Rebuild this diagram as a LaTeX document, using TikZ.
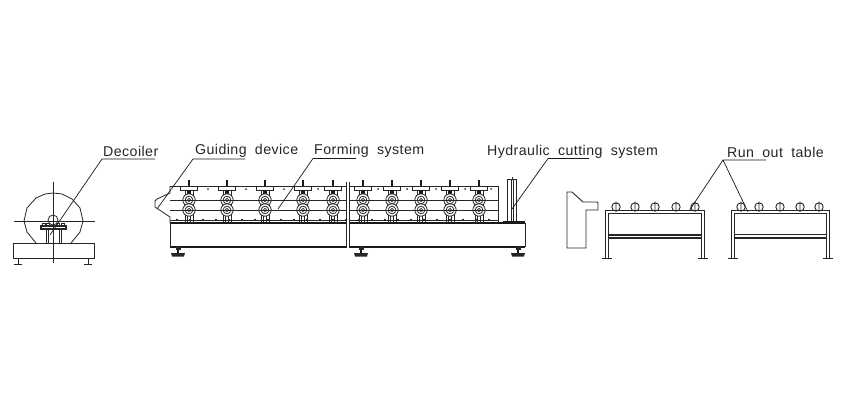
\documentclass[tikz,border=0pt]{standalone}
\usepackage{fontspec}
\setmainfont[LetterSpace=3,WordSpace=1.9]{Liberation Sans}
\begin{document}
\begin{tikzpicture}[x=1pt,y=-1pt,
  ln/.style={draw=black!85,line width=0.8pt},
  thick ln/.style={draw=black!90,line width=1.5pt},
  leader/.style={draw=black!90,line width=0.7pt},
  lab/.style={anchor=west,inner sep=0pt,font=\fontsize{14.2}{16}\selectfont,text=black!85}]
\useasboundingbox (0,0) rectangle (850,410);
\fill[white] (0,0) rectangle (850,410);
% ---------- decoiler
\draw[ln] (36,243) -- (27,232) -- (24,221) -- (27,208) -- (36,198) -- (45,194) -- (53,193) -- (62,194) -- (72,199) -- (80,208) -- (83,221) -- (80,232) -- (71,243);
\draw[ln] (14,221) -- (95,221) (53,182) -- (53,263);
\draw[ln] (13,243.5) rectangle (94,258.5);
\foreach \x in {18,88}{\draw[ln] (\x,258.5) -- (\x,264) (\x-4,264.5) -- (\x+4,264.5);}
\draw[ln] (53,220) circle (5);
\draw[ln,line width=1.2pt] (41,226) rectangle (66,229);
\draw[ln] (46,229) -- (46,243) (48,229) -- (48,243) (59,229) -- (59,243) (61,229) -- (61,243);
\foreach \x in {44,48,58,63}{\draw[ln] (\x-1.2,226) rectangle (\x+1.2,223);}
% ---------- forming machine
\draw[ln] (170,186) -- (498,186) -- (498,223);
\draw[ln] (170,186) -- (170,193) -- (157,199) -- (155,201) -- (155,207) -- (170,217) -- (170,223);
\draw[ln] (170,200) -- (498,200) (170,210) -- (498,210);
\draw[thick ln] (170,223) -- (525,223);
\draw[ln] (170,220) -- (498,220);
\draw[ln] (170,223) -- (170,247) (525,223) -- (525,247);
\draw[thick ln] (170,247) -- (525,247);
\fill[white] (346,182) rectangle (349,248);
\draw[ln] (346,182) -- (346,248) (349,182) -- (349,248);
\foreach \x in {177,190,...,495}{\fill[black!90] (\x,219.7) circle (1);}
\foreach \x in {208,246,284,318,378,407,436,465,491}{\fill[black!80] (\x,189) circle (1);}
\foreach \x in {189,227,265,303,333,363,392,421,450,479}{
  \draw[ln,fill=white] (\x-8.5,186) rectangle (\x+8.5,190);
  \draw[thick ln,line width=2.2pt] (\x,180) -- (\x,186);
  \fill[black!90] (\x-2,190) rectangle (\x+2,196);
  \draw[ln] (\x-4,190) -- (\x-4,223) (\x+4,190) -- (\x+4,223) (\x-1.5,205) -- (\x-1.5,223) (\x+1.5,205) -- (\x+1.5,223);
  \foreach \y in {200,210}{
    \draw[ln,fill=white] (\x,\y) circle (6.2);
    \draw[ln] (\x,\y) circle (3.8) (\x,\y) circle (1.6);
    \draw[ln] (\x-7,\y) -- (\x+7,\y);
  }
}
\foreach \x in {178,361,518}{
  \draw[thick ln,line width=2pt] (\x,247) -- (\x,254);
  \fill[black!85] (\x-2.5,246) rectangle (\x+2.5,249.5);
  \fill[black!85] (\x-7,253) -- (\x+7,253) -- (\x+6,256.5) -- (\x-6,256.5) -- cycle;
}
% ---------- cutting system
\draw[ln] (507,222) -- (507,179) -- (516,179) -- (516,222) (511,179) -- (511,222) (513,179) -- (513,222) (512,179) -- (512,177);
\draw[thick ln] (503,222) -- (525,222);
% ---------- profile
\draw[ln,line width=0.9pt] (567,192) -- (572,192) -- (583,202) -- (597,202) -- (598,203) -- (598,210) -- (586,210) -- (586,248) -- (567,248) -- cycle;
% ---------- tables
\draw[ln,line width=0.9pt] (605,258) -- (605,210) -- (704,210) -- (704,258) (608,258) -- (608,213) -- (701,213) -- (701,258);
\draw[ln,line width=1.1pt] (608,235) -- (701,235) (608,238) -- (701,238);
\draw[ln,line width=1.1pt] (602,258.5) -- (612,258.5) (698,258.5) -- (708,258.5);
\foreach \x in {616,635,655,676,695}{
  \draw[ln,line width=0.9pt] (\x,207) circle (4.2) (\x,201.5) -- (\x,210);
}
\draw[ln,line width=0.9pt] (731,258) -- (731,210) -- (829,210) -- (829,258) (734,258) -- (734,213) -- (826,213) -- (826,258);
\draw[ln,line width=1.1pt] (734,234.5) -- (826,234.5) (734,238) -- (826,238);
\draw[ln,line width=1.1pt] (728,258.5) -- (738,258.5) (823,258.5) -- (833,258.5);
\foreach \x in {741,759,780,800,819}{
  \draw[ln,line width=0.9pt] (\x,207) circle (4.2) (\x,201.5) -- (\x,210);
}
% ---------- labels
\node[lab] (dec) at (103,151) {Decoiler};
\node[lab] (gui) at (195,151) {Guiding device};
\node[lab] (frm) at (314,151) {Forming system};
\node[lab] (hyd) at (487,152) {Hydraulic cutting system};
\node[lab] (run) at (727,152) {Run out table};
% ---------- leaders
\coordinate (decE) at (155,159); \coordinate (decK) at (102,159); \coordinate (decT) at (50,235);
\coordinate (guiE) at (245,159); \coordinate (guiK) at (193,159); \coordinate (guiT) at (157,209);
\coordinate (frmE) at (356,158.5); \coordinate (frmK) at (313,158.5); \coordinate (frmT) at (278,209);
\coordinate (hydE) at (589,158.5); \coordinate (hydK) at (548,158.5); \coordinate (hydT) at (512,209);
\coordinate (runE) at (766,160); \coordinate (runK) at (723,160); \coordinate (runA) at (689,211); \coordinate (runB) at (748,212);
\draw[leader] (decE) -- (decK) -- (decT);
\draw[leader] (guiE) -- (guiK) -- (guiT);
\draw[leader] (frmE) -- (frmK) -- (frmT);
\draw[leader] (hydE) -- (hydK) -- (hydT);
\draw[leader] (runE) -- (runK) -- (runA) (runK) -- (runB);
\end{tikzpicture}
\end{document}
